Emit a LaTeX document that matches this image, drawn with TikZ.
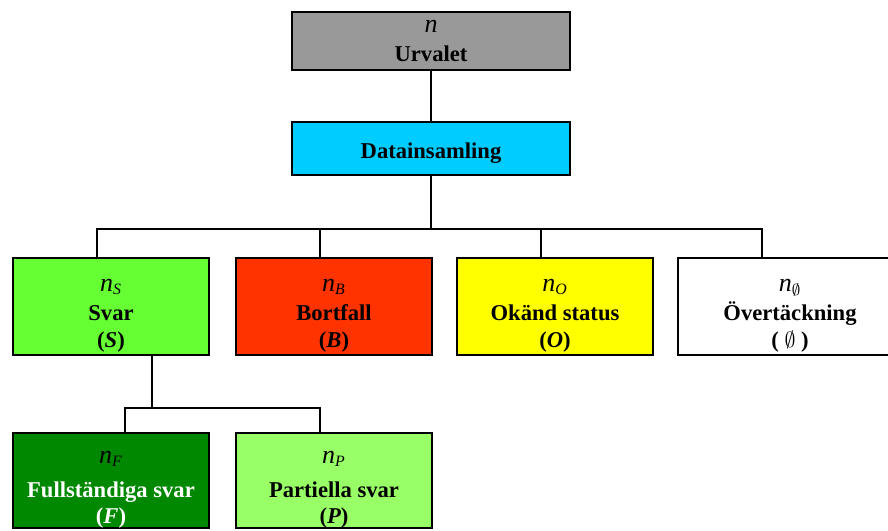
\documentclass[tikz,border=0pt]{standalone}
\usepackage{fontspec}
\setmainfont{Liberation Serif}
\usetikzlibrary{shapes,arrows}

\definecolor{urvalgray}{HTML}{999999}
\definecolor{insamlingblue}{HTML}{00CCFF}
\definecolor{svargreen}{HTML}{66FF33}
\definecolor{bortfallred}{HTML}{FF3300}
\definecolor{okandyellow}{HTML}{FFFF00}
\definecolor{fullgreen}{HTML}{008800}
\definecolor{partgreen}{HTML}{99FF66}

\newcommand{\antal}[1]{\rule{0pt}{15pt}{\fontsize{13}{13}\selectfont\textmd{\textit{n}}}\textmd{\textsubscript{#1}}}

\begin{document}
\begin{tikzpicture}[x=0.5pt,y=-0.5pt,
  box/.style={draw=black, line width=0.9pt, inner sep=0pt, outer sep=0pt, align=center,
    font=\fontsize{11.3}{13}\selectfont\bfseries},
  topbox/.style={box, minimum width=139pt, minimum height=29pt},
  catbox/.style={box, minimum width=98pt, minimum height=48.5pt},
  subbox/.style={box, minimum width=98pt, minimum height=47.5pt},
  link/.style={line width=0.9pt}]

\clip (0,0) rectangle (888,530);

\node (U) [topbox, fill=urvalgray] at (431,41) {{\fontsize{13}{13}\selectfont\textmd{\textit{n}}}\\[1.5pt] Urvalet};
\node (D) [topbox, minimum height=26.5pt, fill=insamlingblue, node distance=53.75pt, below of=U] {\rule{0pt}{12pt}Datainsamling};

\node (S) [catbox, fill=svargreen] at (111,306.5) {\antal{\textit{S}}\\[1.5pt] Svar\\[0.5pt] (\textit{S})};
\node (B) [catbox, fill=bortfallred, node distance=111.5pt, right of=S] {\antal{\textit{B}}\\[1.5pt] Bortfall\\[0.5pt] (\textit{B})};
\node (O) [catbox, fill=okandyellow, node distance=110.5pt, right of=B] {\antal{\textit{O}}\\[1.5pt] Okänd status\\[0.5pt] (\textit{O})};
\node (Oe) [catbox, fill=white, minimum width=112pt, node distance=117.5pt, right of=O] {\antal{$\emptyset$}\\[1.5pt] Övertäckning\\[0.5pt] ( $\emptyset$ )};

\node (F) [subbox, fill=fullgreen, text=white, node distance=87pt, below of=S] {{\color{black}\antal{\textit{F}}}\\[4pt] Fullständiga svar\\ (\textit{F})};
\node (P) [subbox, fill=partgreen, node distance=111.5pt, right of=F] {\antal{\textit{P}}\\[4pt] Partiella svar\\ (\textit{P})};

\coordinate (bus) at (431,229);
\coordinate (split) at ([xshift=69.5pt,yshift=-26.5pt]S.south west);

\draw [link] (U) -- (D);
\draw [link] (D) -- (bus);
\draw [link] (bus) -| ([xshift=42pt]S.north west);
\draw [link] (bus) -| ([xshift=42pt]B.north west);
\draw [link] (bus) -| ([xshift=42pt]O.north west);
\draw [link] (bus) -| ([xshift=42pt]Oe.north west);

\draw [link] ([xshift=69.5pt]S.south west) -- (split);
\draw [link] (split) -| ([xshift=56pt]F.north west);
\draw [link] (split) -| ([xshift=42pt]P.north west);

\end{tikzpicture}
\end{document}
